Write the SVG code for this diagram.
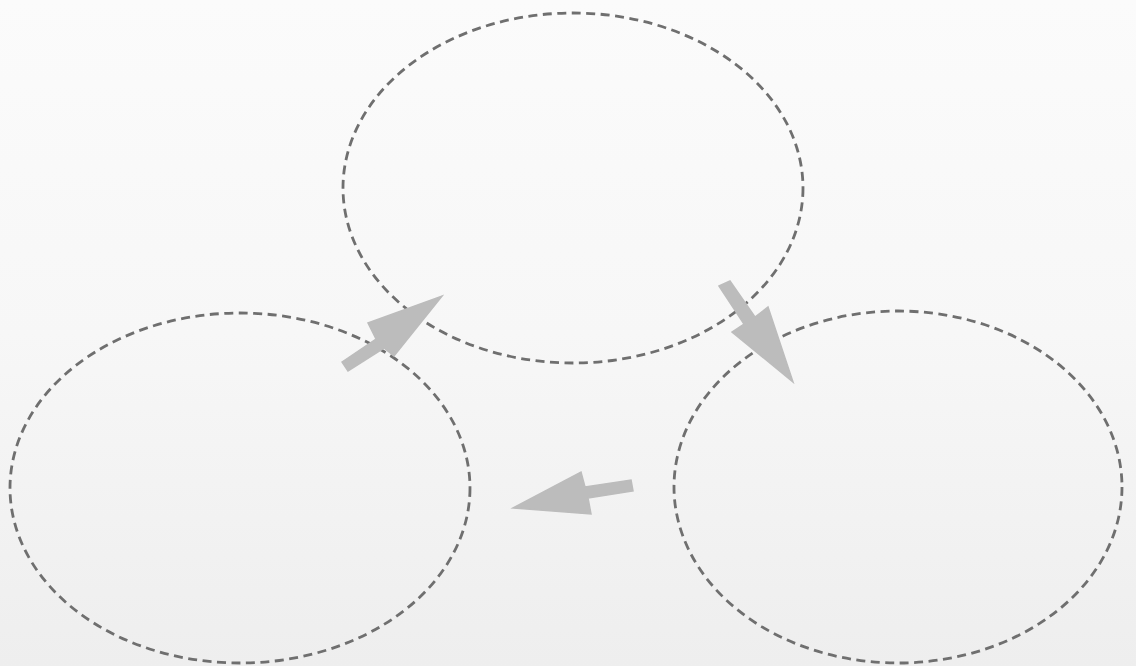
<svg xmlns="http://www.w3.org/2000/svg" width="1136" height="666" viewBox="0 0 1136 666">
<defs>
<linearGradient id="bg" x1="0" y1="0" x2="0" y2="1">
<stop offset="0" stop-color="#fbfbfb"/>
<stop offset="0.5" stop-color="#f7f7f7"/>
<stop offset="1" stop-color="#eeeeee"/>
</linearGradient>
<style>
.c{fill:none;stroke:#6f6f6f;stroke-width:2.8;stroke-dasharray:9 5.5}
.a{fill:#bcbcbc;stroke:#bcbcbc;stroke-width:1.5;stroke-linejoin:miter}
</style>
</defs>
<rect width="1136" height="666" fill="url(#bg)"/>
<g id="node-top"><ellipse class="c" cx="573" cy="188" rx="230" ry="175"/></g>
<g id="node-left"><ellipse class="c" cx="240" cy="488" rx="230" ry="175"/></g>
<g id="node-right"><ellipse class="c" cx="898" cy="487" rx="224" ry="176"/></g>
<g id="connectors">
<polygon class="a" points="342,362 376,339 368,323 442,296 394,356 384,348 348,371"/>
<polygon class="a" points="719,286 730,281 755,317 768,307 793,382 732,332 744,324"/>
<polygon class="a" points="631,480 633,491 588,498 591,514 513,508 581,472 585,487"/>
</g>
</svg>
